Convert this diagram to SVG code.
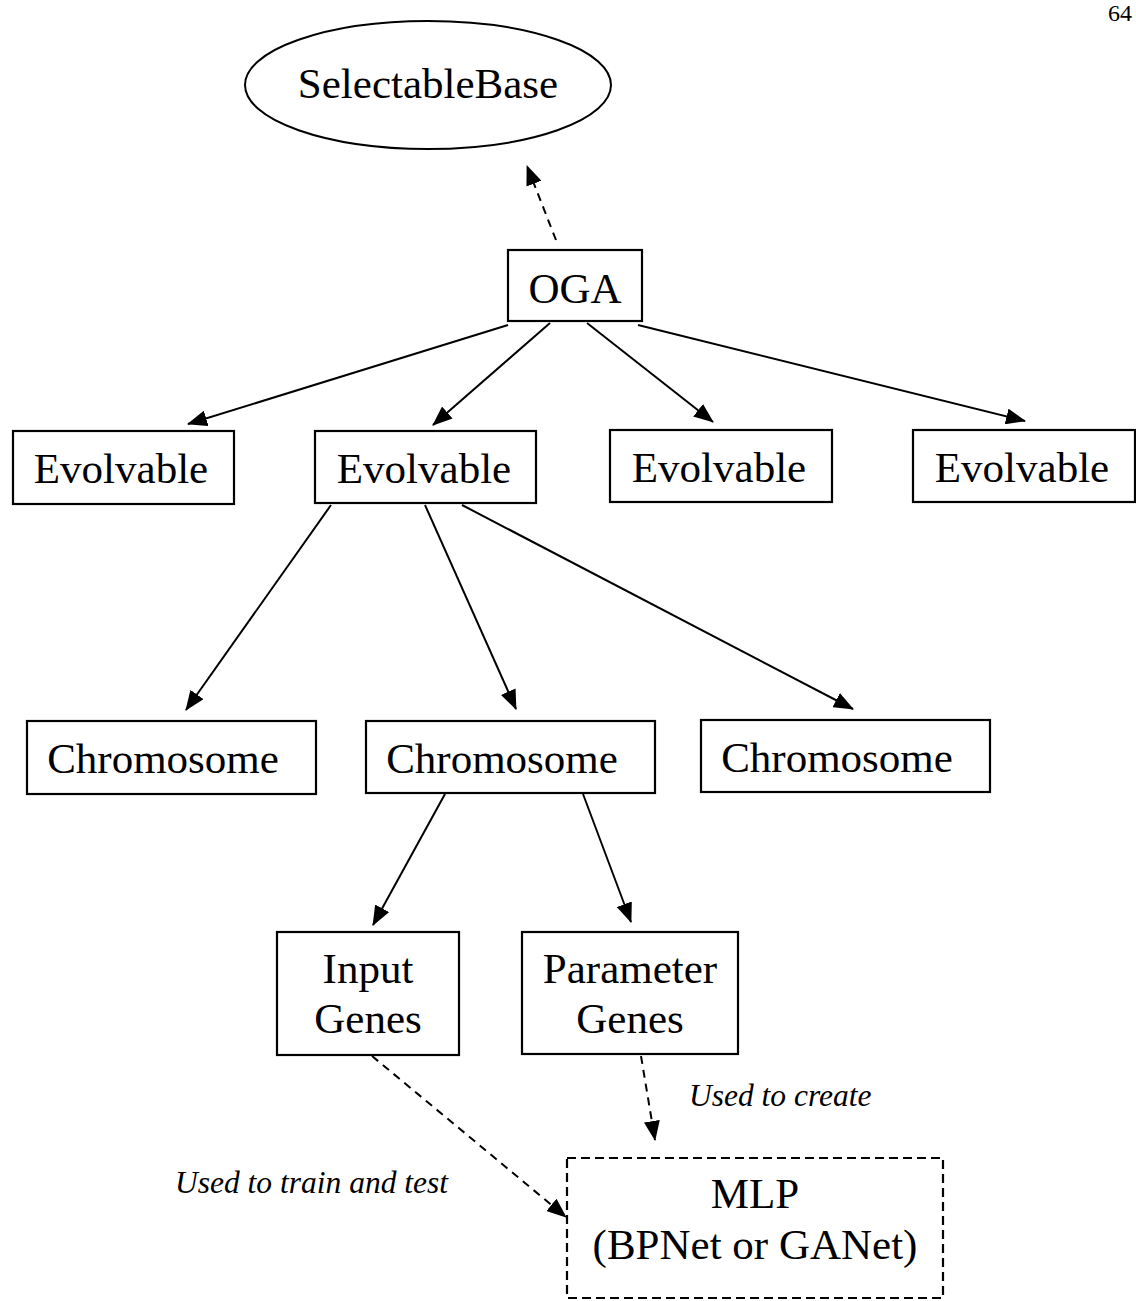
<svg xmlns="http://www.w3.org/2000/svg" width="1136" height="1301" viewBox="0 0 1136 1301">
  <style>
    .box { fill: #fff; stroke: #000; stroke-width: 2.2; }
    .dbox { fill: #fff; stroke: #000; stroke-width: 2.2; stroke-dasharray: 9 5; }
    .lbl { font-family: "Liberation Serif", "Times New Roman", serif; font-size: 43px; fill: #000; text-anchor: middle; }
    .note { font-family: "Liberation Serif", "Times New Roman", serif; font-size: 31.5px; font-style: italic; fill: #000; }
    .edge { fill: none; stroke: #000; stroke-width: 2; marker-end: url(#head); }
    .dash { fill: none; stroke: #000; stroke-width: 2; stroke-dasharray: 8 6; marker-end: url(#head); }
  </style>
  <defs>
    <marker id="head" markerUnits="userSpaceOnUse" markerWidth="20" markerHeight="16" viewBox="0 0 20 16" refX="19" refY="8" orient="auto">
      <path d="M0,0 L20,8 L0,16 Z" fill="#000"/>
    </marker>
  </defs>

  <rect width="1136" height="1301" fill="#fff"/>

  <!-- page number -->
  <text x="1108" y="21" style="font-family: 'Liberation Serif', serif; font-size: 24px;">64</text>

  <g id="connectors">
    <line class="dash" x1="556" y1="240" x2="527" y2="166"/>
    <line class="edge" x1="508" y1="325" x2="188" y2="424"/>
    <line class="edge" x1="550" y1="323" x2="433" y2="425"/>
    <line class="edge" x1="587" y1="323" x2="713" y2="422"/>
    <line class="edge" x1="638" y1="325" x2="1025" y2="421"/>
    <line class="edge" x1="331" y1="505" x2="186" y2="710"/>
    <line class="edge" x1="425" y1="505" x2="516" y2="709"/>
    <line class="edge" x1="462" y1="505" x2="853" y2="709"/>
    <line class="edge" x1="445" y1="794" x2="373" y2="925"/>
    <line class="edge" x1="583" y1="794" x2="631" y2="922"/>
    <line class="dash" x1="641" y1="1056" x2="655" y2="1140"/>
    <line class="dash" x1="372" y1="1056" x2="566" y2="1217"/>
  </g>

  <g id="selectable-base">
    <ellipse cx="428" cy="85" rx="183" ry="64" fill="#fff" stroke="#000" stroke-width="2"/>
    <text class="lbl" x="428" y="98">SelectableBase</text>
  </g>

  <g id="oga">
    <rect class="box" x="508" y="250" width="134" height="71"/>
    <text class="lbl" x="575" y="303">OGA</text>
  </g>

  <g id="evolvable-1">
    <rect class="box" x="13" y="431" width="221" height="73"/>
    <text class="lbl" x="121" y="483">Evolvable</text>
  </g>
  <g id="evolvable-2">
    <rect class="box" x="315" y="431" width="221" height="72"/>
    <text class="lbl" x="424" y="483">Evolvable</text>
  </g>
  <g id="evolvable-3">
    <rect class="box" x="610" y="430" width="222" height="72"/>
    <text class="lbl" x="719" y="482">Evolvable</text>
  </g>
  <g id="evolvable-4">
    <rect class="box" x="913" y="430" width="222" height="72"/>
    <text class="lbl" x="1022" y="482">Evolvable</text>
  </g>

  <g id="chromosome-1">
    <rect class="box" x="27" y="721" width="289" height="73"/>
    <text class="lbl" x="163" y="773">Chromosome</text>
  </g>
  <g id="chromosome-2">
    <rect class="box" x="366" y="721" width="289" height="72"/>
    <text class="lbl" x="502" y="773">Chromosome</text>
  </g>
  <g id="chromosome-3">
    <rect class="box" x="701" y="720" width="289" height="72"/>
    <text class="lbl" x="837" y="772">Chromosome</text>
  </g>

  <g id="input-genes">
    <rect class="box" x="277" y="932" width="182" height="123"/>
    <text class="lbl" x="368" y="983">Input</text>
    <text class="lbl" x="368" y="1033">Genes</text>
  </g>
  <g id="parameter-genes">
    <rect class="box" x="522" y="932" width="216" height="122"/>
    <text class="lbl" x="630" y="983">Parameter</text>
    <text class="lbl" x="630" y="1033">Genes</text>
  </g>

  <g id="mlp">
    <rect class="dbox" x="567" y="1158" width="376" height="140"/>
    <text class="lbl" x="755" y="1208">MLP</text>
    <text class="lbl" x="755" y="1259">(BPNet or GANet)</text>
  </g>

  <g id="notes">
    <text class="note" x="689" y="1106">Used to create</text>
    <text class="note" x="175" y="1193">Used to train and test</text>
  </g>
</svg>
